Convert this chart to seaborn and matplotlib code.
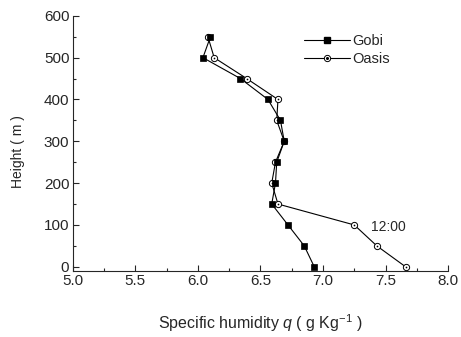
import numpy as np
import pandas as pd
import matplotlib
matplotlib.use('Agg')
import matplotlib.pyplot as plt
from matplotlib.ticker import MultipleLocator
import seaborn as sns

# heights of the profile levels [m]
height = [0, 50, 100, 150, 200, 250, 300, 350, 400, 450, 500, 550]

# specific humidity [g/kg]
q_gobi = [6.93, 6.85, 6.72, 6.59, 6.62, 6.63, 6.69, 6.66, 6.56, 6.34, 6.04, 6.10]
q_oasis = [7.66, 7.43, 7.25, 6.64, 6.59, 6.62, 6.69, 6.63, 6.64, 6.39, 6.13, 6.08]

time_label = '12:00'

sns.set_style('ticks')
plt.rcParams['font.family'] = ['Liberation Sans', 'DejaVu Sans']
plt.rcParams['mathtext.fontset'] = 'custom'
plt.rcParams['mathtext.rm'] = 'Liberation Sans'
plt.rcParams['mathtext.it'] = 'Liberation Sans:italic'

df = pd.DataFrame({'height': height, 'Gobi': q_gobi, 'Oasis': q_oasis})

fig = plt.figure(figsize=(4.61, 3.37), dpi=100)
ax = fig.add_axes([0.158, 0.196, 0.814, 0.757])

ms = 4.5

# oasis: open circle with a dot in the middle
sns.lineplot(data=df, x='Oasis', y='height', sort=False, estimator=None, ax=ax,
             color='black', lw=0.8, marker='o', markersize=ms,
             markerfacecolor='white', markeredgecolor='black', markeredgewidth=0.7)
sns.scatterplot(data=df, x='Oasis', y='height', ax=ax, color='black', s=1.5,
                linewidth=0, zorder=4)

# gobi: filled squares
sns.lineplot(data=df, x='Gobi', y='height', sort=False, estimator=None, ax=ax,
             color='black', lw=0.8, marker='s', markersize=ms,
             markerfacecolor='black', markeredgecolor='black', markeredgewidth=0.5)

ax.text(7.38, 95, time_label, fontsize=10, va='center', ha='left')

# legend with custom handles
h_gobi = plt.Line2D([], [], color='black', lw=0.8, marker='s', markersize=ms,
                    markerfacecolor='black')
h_oasis = plt.Line2D([], [], color='black', lw=0.8, marker='o', markersize=ms,
                     markerfacecolor='white', markeredgewidth=0.7)
h_dot = plt.Line2D([], [], color='black', lw=0, marker='o', markersize=1.2)
ax.legend([h_gobi, (h_oasis, h_dot)], ['Gobi', 'Oasis'], frameon=False,
          fontsize=10.5, loc='upper left', bbox_to_anchor=(0.6, 0.95),
          handlelength=3.2, handletextpad=0.1, labelspacing=0.25,
          borderaxespad=0.2, borderpad=0.2)

ax.set_xlim(5.0, 8.0)
ax.set_ylim(-10, 600)
ax.xaxis.set_major_locator(MultipleLocator(0.5))
ax.xaxis.set_minor_locator(MultipleLocator(0.25))
ax.yaxis.set_major_locator(MultipleLocator(100))
ax.yaxis.set_minor_locator(MultipleLocator(50))
ax.xaxis.set_major_formatter(plt.FormatStrFormatter('%.1f'))
ax.tick_params(which='major', direction='in', length=4, width=0.8,
               labelsize=11, pad=2.5)
ax.tick_params(which='minor', direction='in', length=2, width=0.8)

sns.despine(ax=ax)
for s in ['left', 'bottom']:
    ax.spines[s].set_linewidth(0.8)

ax.set_xlabel('Specific humidity $q$ ( g Kg$^{-1}$ )', fontsize=11.5, labelpad=17)
ax.set_ylabel('Height ( m )', fontsize=10)
ax.yaxis.set_label_coords(-0.128, 0.467)

fig.savefig('out.png', dpi=100)
